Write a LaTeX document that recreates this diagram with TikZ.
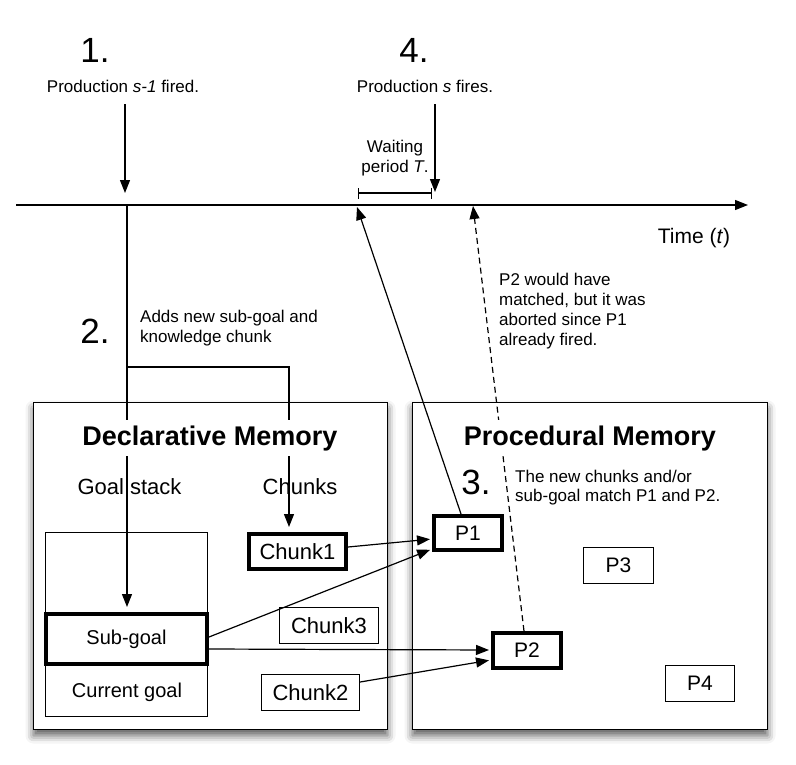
\documentclass[tikz,border=0pt]{standalone}
\usepackage{fontspec}
\setmainfont{Liberation Sans}
\usetikzlibrary{arrows.meta,shadows.blur,calc}
\begin{document}
\begin{tikzpicture}[x=1pt,y=-1pt,
  txt/.style={font=\fontsize{17}{20}\selectfont, inner sep=0pt},
  num/.style={font=\fontsize{35}{40}\selectfont, inner sep=0pt, anchor=base},
  hdr/.style={font=\fontsize{22}{26}\selectfont, inner sep=0pt, anchor=base},
  ttl/.style={font=\bfseries\fontsize{27}{30}\selectfont, fill=white, inner xsep=2pt, inner ysep=5pt, anchor=base},
  membox/.style={draw, line width=1.4pt, fill=white, inner sep=0pt, blur shadow={shadow xshift=0pt, shadow yshift=-6pt, shadow blur radius=8pt, shadow opacity=65}},
  thinbox/.style={draw, line width=1.2pt, inner sep=0pt, font=\fontsize{21}{24}\selectfont},
  thickbox/.style={draw, line width=4pt, inner sep=0pt, font=\fontsize{21}{24}\selectfont},
  chunkfont/.style={font=\fontsize{22}{26}\selectfont},
  arr/.style={-{Triangle[length=13pt,width=10pt]}, line width=1.2pt},
  ln/.style={line width=1.2pt}]
\useasboundingbox (0,0) rectangle (796,764);

% memory boxes
\node[membox, minimum width=354pt, minimum height=327pt] (decl) at (210.5,566) {};
\node[membox, minimum width=355pt, minimum height=327pt] (proc) at (590,566) {};

% declarative memory content
\node[thinbox, minimum width=162pt, minimum height=184pt] (gs) at (126.5,624.5) {};
\node[thickbox, minimum width=161pt, minimum height=50pt, font=\fontsize{20}{24}\selectfont] (sg) at (126.5,639) {Sub-goal};
\node[inner sep=0pt, font=\fontsize{20}{24}\selectfont] (cg) at (127,692) {Current goal};
\node[thickbox, chunkfont, minimum width=97pt, minimum height=35pt] (c1) at (297.5,551.5) {Chunk1};
\node[thinbox, chunkfont, minimum width=99pt, minimum height=36pt] (c3) at (329,625.5) {Chunk3};
\node[thinbox, chunkfont, minimum width=98pt, minimum height=36pt] (c2) at (310.5,692.5) {Chunk2};
\node[hdr] (gsl) at (129.5,494) {Goal stack};
\node[hdr] (chl) at (300,494) {Chunks};

% procedural memory content
\node[thickbox, minimum width=68pt, minimum height=34pt] (p1) at (468,533) {P1};
\node[thickbox, minimum width=68pt, minimum height=35pt] (p2) at (527,650.5) {P2};
\node[thinbox, minimum width=70pt, minimum height=36pt] (p3) at (618.5,565.5) {P3};
\node[thinbox, minimum width=69pt, minimum height=36pt] (p4) at (700,683.5) {P4};

% labels
\node[num] (n1) at (95,62) {1.};
\node[num] (n4) at (414,62) {4.};
\node[num] (n2) at (95,343) {2.};
\node[num] (n3) at (476,494) {3.};
\node[txt, anchor=base] (prod1) at (123,92) {Production \textit{s-1} fired.};
\node[txt, anchor=base] (prods) at (425,92) {Production \textit{s} fires.};
\node[txt, align=center, anchor=north] (wait) at (395,139.5) {Waiting\\period \textit{T}.};
\node[inner sep=0pt, font=\fontsize{21}{24}\selectfont, anchor=base] (time) at (694,243) {Time (\textit{t})};
\node[txt, align=left, anchor=north west] (adds) at (140,309.5) {Adds new sub-goal and\\knowledge chunk};
\node[txt, align=left, anchor=north west] (would) at (499,272.5) {P2 would have\\matched, but it was\\aborted since P1\\already fired.};
\node[txt, align=left, anchor=north west, font=\fontsize{17}{19}\selectfont] (newch) at (515,469.5) {The new chunks and/or\\sub-goal match P1 and P2.};

% timeline
\coordinate (ts) at (16,205);
\coordinate (te) at (748,205);
\draw[arr] (ts) -- (te);

% event arrows
\coordinate (a1s) at (125,104);
\coordinate (a1e) at (125,193);
\draw[arr] (a1s) -- (a1e);
\coordinate (a4s) at (435,104);
\coordinate (a4e) at (435,192);
\draw[arr] (a4s) -- (a4e);

% waiting period bracket
\coordinate (w0) at (358,193);
\coordinate (w1) at (432,193);
\draw[ln, {Bar[width=11pt]}-{Bar[width=11pt]}] (w0) -- (w1);

% production s-1 adds sub-goal and chunk
\coordinate (t1) at (127,205);
\coordinate (br) at (127,367);
\coordinate (brr) at (289,367);
\draw[arr, shorten >=5pt] (t1) -- (t1 |- sg.north);
\draw[arr, shorten >=5pt] (br) -- (brr) -- (brr |- c1.north);

% matches
\draw[arr, shorten >=2pt] (c1.east |- 0,547) -- (p1.west |- 0,539);
\draw[arr, shorten >=2pt] (sg.east |- 0,637) -- (p1.west |- 0,549);
\draw[arr, shorten >=2pt] (sg.east |- 0,649) -- (p2.west |- 0,650);
\draw[arr, shorten >=2pt] (c2.east |- 0,682) -- (p2.west |- 0,660);

% firing
\coordinate (f1) at (357,207);
\coordinate (f2) at (473,206);
\draw[arr] (p1.north -| 461,0) -- (f1);
\draw[arr, dash pattern=on 6pt off 4pt] (p2.north -| 524,0) -- (f2);

% titles on top (white background interrupts lines)
\node[ttl] (dtitle) at (210,445) {Declarative Memory};
\node[ttl] (ptitle) at (590,445) {Procedural Memory};
\end{tikzpicture}
\end{document}
